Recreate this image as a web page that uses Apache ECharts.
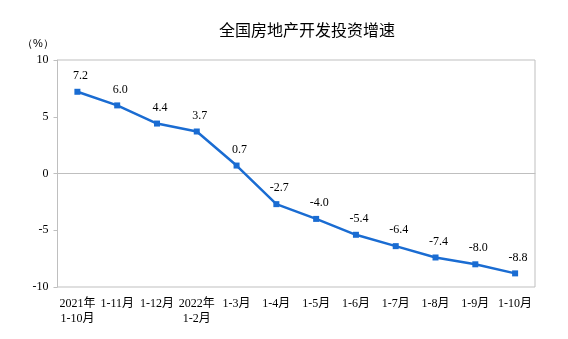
<!DOCTYPE html>
<html><head><meta charset="utf-8">
<script src="https://cdn.jsdelivr.net/npm/echarts@6/dist/echarts.min.js"></script>
<style>html,body{margin:0;padding:0;background:#fff}#c{width:568px;height:339px}</style>
</head><body><div id="c"></div>
<script>
var categories = ['2021年\n1-10月','1-11月','1-12月','2022年\n1-2月','1-3月','1-4月','1-5月','1-6月','1-7月','1-8月','1-9月','1-10月'];
var growth = [7.2, 6.0, 4.4, 3.7, 0.7, -2.7, -4.0, -5.4, -6.4, -7.4, -8.0, -8.8];
var yTicks = [-10, -5, 0, 5, 10];
var font = '"Liberation Serif", "Times New Roman", "Noto Sans CJK SC", serif';
var chart = echarts.init(document.getElementById('c'));
chart.setOption({
  animation: false,
  backgroundColor: '#fff',
  title: {text: '全国房地产开发投资增速', left: 302, top: 17, textAlign: 'center',
    textStyle: {fontSize: 16, fontWeight: 'normal', color: '#000', fontFamily: '"Noto Sans CJK SC", sans-serif'}},
  graphic: [{type: 'text', left: 22, top: 38, style: {text: '（%）', fontSize: 11, fill: '#000', font: '11px ' + font}}],
  grid: {left: 57.5, right: 33, top: 60, bottom: 52, show: true, borderColor: '#bfbfbf', borderWidth: 1},
  xAxis: {type: 'category', data: categories, boundaryGap: true,
    axisLine: {lineStyle: {color: '#bfbfbf'}},
    axisTick: {inside: true, length: 4, lineStyle: {color: '#bfbfbf'}},
    axisLabel: {color: '#000', fontSize: 12, fontFamily: font, interval: 0, margin: 9, lineHeight: 15, verticalAlign: 'top'}},
  yAxis: {type: 'value', min: yTicks[0], max: yTicks[yTicks.length-1], interval: 5,
    splitLine: {show: false},
    axisLine: {show: true, lineStyle: {color: '#bfbfbf'}},
    axisTick: {show: true, length: 4, lineStyle: {color: '#bfbfbf'}},
    axisLabel: {color: '#000', fontSize: 12, fontFamily: font, margin: 9}},
  series: [{type: 'line', data: growth, symbol: 'rect', symbolSize: 6,
    lineStyle: {color: '#1a6cd2', width: 2.5}, itemStyle: {color: '#1a6cd2'},
    label: {show: true, position: 'top', offset: [3, -1], distance: 6, color: '#000', fontSize: 12, fontFamily: font,
      formatter: function(p){return p.value.toFixed(1);}}}]
});
</script></body></html>
